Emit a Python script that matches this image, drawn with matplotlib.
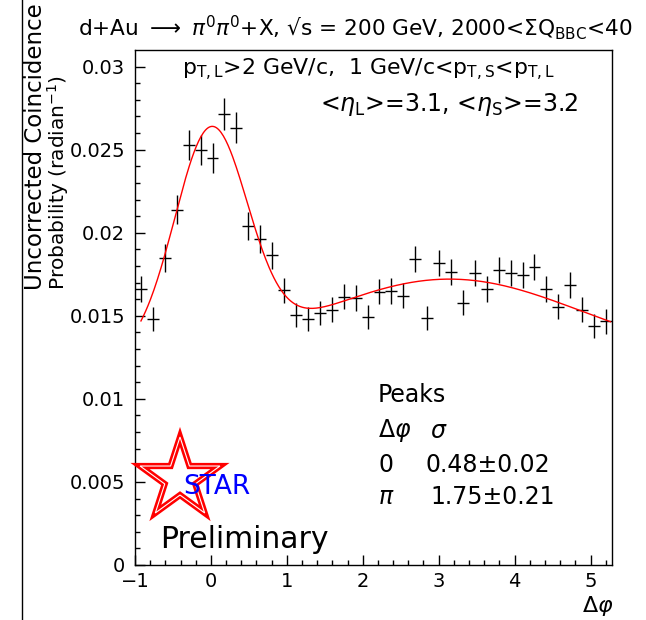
import numpy as np
import matplotlib
matplotlib.use("Agg")
import matplotlib.pyplot as plt
from matplotlib.lines import Line2D
from matplotlib.patches import Polygon

W, H = 646, 620

# 40 bins of delta phi over [-1, 2pi-1]
n_bins = 40
x_lo, x_hi = -1.0, 2 * np.pi - 1.0

counts = [0.01663, 0.01480, 0.01848, 0.02139, 0.02526, 0.02500, 0.02450, 0.02715,
          0.02631, 0.02038, 0.01962, 0.01864, 0.01653, 0.01506, 0.01480, 0.01516,
          0.01536, 0.01616, 0.01607, 0.01492, 0.01646, 0.01651, 0.01620, 0.01842,
          0.01486, 0.01817, 0.01763, 0.01580, 0.01757, 0.01661, 0.01777, 0.01757,
          0.01747, 0.01793, 0.01661, 0.01556, 0.01687, 0.01536, 0.01440, 0.01466]
errors = [0.00078, 0.00074, 0.00082, 0.00086, 0.00090, 0.00090, 0.00089, 0.00095,
          0.00093, 0.00084, 0.00082, 0.00080, 0.00077, 0.00074, 0.00074, 0.00074,
          0.00075, 0.00076, 0.00076, 0.00074, 0.00077, 0.00077, 0.00076, 0.00080,
          0.00074, 0.00080, 0.00079, 0.00076, 0.00079, 0.00077, 0.00079, 0.00079,
          0.00079, 0.00080, 0.00077, 0.00075, 0.00078, 0.00075, 0.00073, 0.00073]

# fit: constant + gaussian at 0 + gaussian at pi
fit_const = 0.01228
fit_amp_near, fit_sigma_near = 0.01313, 0.48
fit_amp_away, fit_sigma_away = 0.004929, 1.75

edges = np.linspace(x_lo, x_hi, n_bins + 1)
centers = 0.5 * (edges[:-1] + edges[1:])
half_width = 0.5 * (edges[1] - edges[0])

plt.rcParams['font.family'] = ['DejaVu Sans']
plt.rcParams['mathtext.fontset'] = 'dejavusans'

fig = plt.figure(figsize=(W / 100, H / 100), dpi=100)
ax = fig.add_axes([135 / W, 1 - 565 / H, 477 / W, 515 / H])


def fpx(x, y):
    return x / W, 1 - y / H


ax.errorbar(centers, counts, xerr=half_width, yerr=errors, fmt='none',
            ecolor='black', elinewidth=1.0, capsize=0)

xf = np.linspace(centers[0], x_hi - 0.02, 400)
yf = (fit_const
      + fit_amp_near * np.exp(-xf ** 2 / (2 * fit_sigma_near ** 2))
      + fit_amp_away * np.exp(-(xf - np.pi) ** 2 / (2 * fit_sigma_away ** 2)))
ax.plot(xf, yf, color='red', lw=1.0)

ax.set_xlim(x_lo, x_hi)
ax.set_ylim(0, 0.0310)
ax.set_xticks([-1, 0, 1, 2, 3, 4, 5])
ax.set_xticks(np.arange(-1, 5.3, 0.2), minor=True)
ax.set_yticks([0, 0.005, 0.01, 0.015, 0.02, 0.025, 0.03])
ax.set_yticks(np.arange(0, 0.0305, 0.001), minor=True)
ax.set_yticklabels(['0', '0.005', '0.01', '0.015', '0.02', '0.025', '0.03'])
ax.tick_params(which='both', direction='in', top=False, right=False, labelsize=14)
ax.tick_params(axis='y', which='both', pad=7)
ax.tick_params(axis='x', which='both', pad=5)
ax.tick_params(which='major', length=7, width=1)
ax.tick_params(which='minor', length=3.5, width=1)
for s in ax.spines.values():
    s.set_linewidth(1.0)

# title and labels
fig.text(*fpx(78, 28), r"d+Au $\longrightarrow$ $\pi^0\pi^0$+X, √s = 200 GeV, 2000<ΣQ$_{\mathrm{BBC}}$<40",
         fontsize=15.6, ha='left', va='center')
fig.text(*fpx(35, 290), "Uncorrected Coincidence", fontsize=16.5, rotation=90,
         rotation_mode='anchor', ha='left', va='center')
fig.text(*fpx(58, 290), r"Probability (radian$^{-1}$)", fontsize=14.5, rotation=90,
         rotation_mode='anchor', ha='left', va='center')
fig.text(*fpx(582, 606), r"$\Delta\varphi$", fontsize=16, ha='left', va='center')

fig.text(*fpx(182, 70), r"p$_{\mathrm{T,L}}$>2 GeV/c,  1 GeV/c<p$_{\mathrm{T,S}}$<p$_{\mathrm{T,L}}$",
         fontsize=15.8, ha='left', va='center')
fig.text(*fpx(320, 105), r"<$\eta_{\mathrm{L}}$>=3.1, <$\eta_{\mathrm{S}}$>=3.2",
         fontsize=17, ha='left', va='center')

# peak widths table
fig.text(*fpx(378, 395), "Peaks", fontsize=17, ha='left', va='center')
fig.text(*fpx(378, 431), r"$\Delta\varphi$", fontsize=17, ha='left', va='center')
fig.text(*fpx(430, 431), r"$\sigma$", fontsize=17, ha='left', va='center')
fig.text(*fpx(378, 465), "0", fontsize=17, ha='left', va='center')
fig.text(*fpx(425, 465), "0.48±0.02", fontsize=17, ha='left', va='center')
fig.text(*fpx(378, 497), r"$\pi$", fontsize=17, ha='left', va='center')
fig.text(*fpx(430, 497), "1.75±0.21", fontsize=17, ha='left', va='center')

# STAR logo
cx, cy, r_out = 180, 479, 42
r_in = r_out * 0.382
pts = []
for k in range(10):
    ang = np.deg2rad(90 + 36 * k)
    rr = r_out if k % 2 == 0 else r_in
    pts.append(fpx(cx + rr * np.cos(ang), cy - rr * np.sin(ang)))
fig.add_artist(Polygon(pts, closed=True, fill=False, edgecolor='red', lw=4.5,
                       transform=fig.transFigure, joinstyle='miter'))
fig.add_artist(Polygon(pts, closed=True, fill=False, edgecolor='white', lw=0.8,
                       transform=fig.transFigure, joinstyle='miter'))
fig.text(*fpx(183, 487), "STAR", fontsize=19, color='blue', ha='left', va='center')
fig.text(*fpx(160, 540), "Preliminary", fontsize=21.5, ha='left', va='center')

fig.add_artist(Line2D([22 / W, 22 / W], [0, 1], transform=fig.transFigure,
                      color='black', lw=1.0))

fig.savefig("out.png", dpi=100)
